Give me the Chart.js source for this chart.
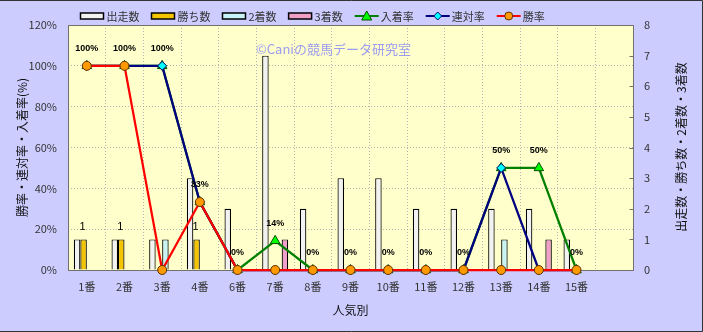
<!DOCTYPE html>
<html lang="ja">
<head>
<meta charset="UTF-8">
<title>人気別成績</title>
<script src="https://cdn.jsdelivr.net/npm/chart.js"></script>
<style>
    body { margin: 0; background: #ccccff; }
    canvas { display: block; }
</style>
</head>
<body>
<canvas id="ninkiChart" width="703" height="332"></canvas>
<script>
    // 人気別の集計 (最後の1枠は空き)
    const categories = ['1番', '2番', '3番', '4番', '6番', '7番', '8番', '9番', '10番', '11番', '12番', '13番', '14番', '15番', ''];
    const starts  = [1, 1, 1, 3, 2, 7, 2, 3, 3, 2, 2, 2, 2, 1, null];
    const wins    = [1, 1, 0, 1, 0, 0, 0, 0, 0, 0, 0, 0, 0, 0, null];
    const seconds = [0, 0, 1, 0, 0, 0, 0, 0, 0, 0, 0, 1, 0, 0, null];
    const thirds  = [0, 0, 0, 0, 0, 1, 0, 0, 0, 0, 0, 0, 1, 0, null];
    const placeRate  = [100, 100, 100, 33.3, 0, 14.3, 0, 0, 0, 0, 0, 50, 50, 0, null];
    const rentaiRate = [100, 100, 100, 33.3, 0, 0, 0, 0, 0, 0, 0, 50, 0, 0, null];
    const winRate    = [100, 100, 0, 33.3, 0, 0, 0, 0, 0, 0, 0, 0, 0, 0, null];

    const FONT = "'Noto Sans CJK JP', 'Noto Sans', sans-serif";
    Chart.defaults.font.family = FONT;
    Chart.defaults.font.size = 11;
    Chart.defaults.color = '#333';

    function drawMarker(ctx, style, x, y, fill, stroke) {
        ctx.save();
        ctx.fillStyle = fill;
        ctx.strokeStyle = stroke;
        ctx.lineWidth = 1;
        ctx.beginPath();
        if (style === 'triangle') {
            ctx.moveTo(x, y - 5); ctx.lineTo(x + 5, y + 4); ctx.lineTo(x - 5, y + 4);
        } else if (style === 'rectRot') {
            ctx.moveTo(x, y - 4); ctx.lineTo(x + 4, y); ctx.lineTo(x, y + 4); ctx.lineTo(x - 4, y);
        } else {
            ctx.arc(x, y, 4, 0, Math.PI * 2);
        }
        ctx.closePath();
        ctx.fill();
        ctx.stroke();
        ctx.restore();
    }

    // 背景・枠・凡例・ラベルなど
    const decoPlugin = {
        id: 'deco',
        beforeDraw(chart) {
            const { ctx, chartArea: a } = chart;
            ctx.save();
            ctx.fillStyle = '#ccccff';
            ctx.fillRect(0, 0, chart.width, chart.height);
            ctx.fillStyle = '#ffffcc';
            ctx.fillRect(a.left, a.top, a.right - a.left, a.bottom - a.top);
            ctx.restore();
        },
        beforeDatasetsDraw(chart) {
            const { ctx, chartArea: a } = chart;
            ctx.save();
            ctx.strokeStyle = '#707070';
            ctx.lineWidth = 1;
            ctx.strokeRect(Math.round(a.left) + 0.5, Math.round(a.top) + 0.5, Math.round(a.right - a.left), Math.round(a.bottom - a.top));
            // 右軸の内向き目盛
            const y1 = chart.scales.y1;
            ctx.beginPath();
            y1.ticks.forEach(t => {
                const py = Math.round(y1.getPixelForValue(t.value)) + 0.5;
                ctx.moveTo(Math.round(a.right) + 0.5, py);
                ctx.lineTo(Math.round(a.right) - 3.5, py);
            });
            ctx.stroke();
            // 透かし
            ctx.font = '13px ' + FONT;
            ctx.fillStyle = '#9c9cf0';
            ctx.textBaseline = 'middle';
            ctx.fillText('©Caniの競馬データ研究室', 256, 49);
            ctx.restore();
        },
        afterDatasetsDraw(chart) {
            const { ctx } = chart;
            ctx.save();
            ctx.textAlign = 'center';
            ctx.textBaseline = 'middle';
            ctx.fillStyle = '#000';
            // 入着率ラベル
            ctx.font = "bold 9px 'Liberation Sans', sans-serif";
            chart.getDatasetMeta(4).data.forEach((pt, i) => {
                const v = placeRate[i];
                if (v === null) return;
                ctx.fillText(Math.round(v) + '%', pt.x, pt.y - 17);
            });
            // 勝ち数ラベル
            ctx.font = "11px 'Liberation Sans', sans-serif";
            chart.getDatasetMeta(1).data.forEach((bar, i) => {
                if (!wins[i]) return;
                ctx.fillText(String(wins[i]), bar.x - 1, bar.y - 12);
            });
            ctx.restore();
        },
        afterDraw(chart) {
            const { ctx } = chart;
            ctx.save();
            // 凡例
            ctx.font = '11px ' + FONT;
            ctx.textBaseline = 'middle';
            let x = 80.5;
            const y = 16;
            chart.data.datasets.forEach(ds => {
                if (ds.type === 'bar') {
                    ctx.fillStyle = ds.backgroundColor;
                    ctx.fillRect(x, y - 3, 23, 6);
                    ctx.strokeStyle = '#000';
                    ctx.lineWidth = 1.5;
                    ctx.strokeRect(x, y - 3, 23, 6);
                } else {
                    ctx.strokeStyle = ds.borderColor;
                    ctx.lineWidth = 2;
                    ctx.beginPath();
                    ctx.moveTo(x, y); ctx.lineTo(x + 24, y);
                    ctx.stroke();
                    drawMarker(ctx, ds.pointStyle, x + 12, y, ds.pointBackgroundColor, ds.pointBorderColor);
                }
                ctx.fillStyle = '#333';
                ctx.fillText(ds.label, x + 26, y + 1);
                x += 26 + ctx.measureText(ds.label).width + 12;
            });
            // 右軸タイトル
            ctx.font = '12px ' + FONT;
            ctx.fillStyle = '#111';
            ctx.textAlign = 'center';
            ctx.translate(681, 147);
            ctx.rotate(-Math.PI / 2);
            ctx.fillText('出走数・勝ち数・2着数・3着数', 0, 0);
            ctx.restore();
            // 外枠
            ctx.save();
            ctx.strokeStyle = '#333';
            ctx.lineWidth = 1;
            ctx.beginPath();
            ctx.moveTo(0, 0.5); ctx.lineTo(702.5, 0.5); ctx.lineTo(702.5, 331.5); ctx.lineTo(0, 331.5);
            ctx.stroke();
            ctx.restore();
        }
    };

    const barBase = { type: 'bar', yAxisID: 'y1', borderColor: '#000', borderWidth: 1.2, order: 10,
                      categoryPercentage: 0.69, barPercentage: 1.0 };
    const lineBase = { type: 'line', yAxisID: 'y', borderWidth: 2.25, tension: 0, clip: false,
                       pointRadius: 4.5, pointBorderWidth: 1, spanGaps: false };

    new Chart(document.getElementById('ninkiChart'), {
        data: {
            labels: categories,
            datasets: [
                { ...barBase, label: '出走数', data: starts, backgroundColor: '#f2f2f2' },
                { ...barBase, label: '勝ち数', data: wins, backgroundColor: '#f5c400' },
                { ...barBase, label: '2着数', data: seconds, backgroundColor: '#c8f4f6' },
                { ...barBase, label: '3着数', data: thirds, backgroundColor: '#f0a0c8' },
                { ...lineBase, label: '入着率', data: placeRate, order: 3, borderColor: '#008000',
                  pointStyle: 'triangle', pointRadius: 5.5, pointBackgroundColor: '#00ff00', pointBorderColor: '#005000' },
                { ...lineBase, label: '連対率', data: rentaiRate, order: 2, borderColor: '#000080',
                  pointStyle: 'rectRot', pointBackgroundColor: '#00ffff', pointBorderColor: '#000060' },
                { ...lineBase, label: '勝率', data: winRate, order: 1, borderColor: '#ff0000',
                  pointStyle: 'circle', pointBackgroundColor: '#ff9900', pointBorderColor: '#603000' }
            ]
        },
        options: {
            responsive: false,
            animation: false,
            layout: { padding: { top: 25, left: 0, right: 0, bottom: 0 } },
            plugins: { legend: { display: false }, tooltip: { enabled: false } },
            scales: {
                x: {
                    offset: true,
                    grid: { offset: true, color: '#b4b4b4', drawTicks: false },
                    border: { display: false, dash: [1, 2] },
                    ticks: { padding: 10, color: '#333', maxRotation: 0, autoSkip: false },
                    title: { display: true, text: '人気別', font: { size: 12 }, color: '#111', padding: { top: 0, bottom: 14 } },
                    afterFit: s => { s.height = 62; }
                },
                y: {
                    position: 'left',
                    min: 0, max: 120,
                    ticks: { stepSize: 20, padding: 11, callback: v => v + '%' },
                    grid: { color: '#b4b4b4', drawTicks: false },
                    border: { display: false, dash: [1, 2] },
                    title: { display: true, text: '勝率・連対率・入着率(%)', font: { size: 12 }, color: '#111', padding: { top: 15, bottom: 0 } },
                    afterFit: s => { s.width = 68; }
                },
                y1: {
                    position: 'right',
                    min: 0, max: 8,
                    ticks: { stepSize: 1, padding: 11 },
                    grid: { drawOnChartArea: false, drawTicks: false },
                    border: { display: false },
                    afterFit: s => { s.width = 70; }
                }
            }
        },
        plugins: [decoPlugin]
    });
</script>
</body>
</html>
